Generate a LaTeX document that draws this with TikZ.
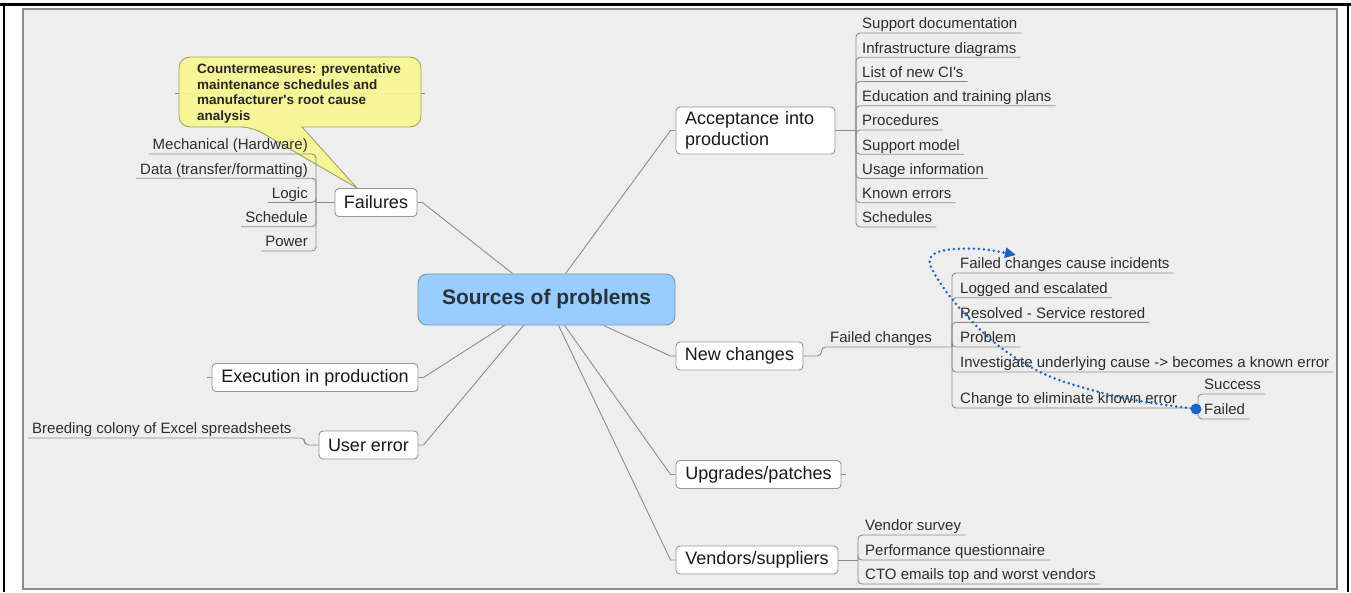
\documentclass[tikz,border=0pt]{standalone}
\usepackage{fontspec}
\setmainfont{Liberation Sans}[Ligatures=TeXOff]
\usetikzlibrary{calc,arrows.meta}
\definecolor{panelfill}{RGB}{238,238,238}
\definecolor{panelline}{RGB}{140,140,140}
\definecolor{linegray}{RGB}{140,140,140}
\definecolor{boxgray}{RGB}{150,150,150}
\definecolor{txtmain}{RGB}{25,25,25}
\definecolor{txtleaf}{RGB}{45,45,45}
\definecolor{centerfill}{RGB}{153,204,255}
\definecolor{centerline}{RGB}{120,150,185}
\definecolor{centertxt}{RGB}{40,50,60}
\definecolor{callfill}{RGB}{247,247,145}
\definecolor{callline}{RGB}{160,160,100}
\definecolor{bluec}{RGB}{25,100,200}
\tikzset{
  conn/.style={draw=linegray, line width=0.9},
  brk/.style={draw=linegray, line width=0.9, rounded corners=4},
  mainbox/.style={draw=boxgray, fill=white, rounded corners=4, line width=0.9,
    font=\fontsize{18}{20.5}\selectfont, text=txtmain, inner xsep=9, inner ysep=3, minimum height=28},
  leaf/.style={font=\fontsize{15}{17}\selectfont, text=txtleaf, inner xsep=4, inner ysep=0.5,
    text height=11, text depth=3.5},
  leafL/.style={leaf, anchor=south west},
  leafR/.style={leaf, anchor=south east},
}
\begin{document}
\begin{tikzpicture}[x=1pt,y=-1pt]
\useasboundingbox (0,0) rectangle (1351,592);
\fill[white] (0,0) rectangle (1351,592);
\draw[draw=panelline, fill=panelfill, line width=1.2] (23,9) rectangle (1337,589);
\draw[black, line width=3] (0,4) -- (1351,4);
\draw[black, line width=2.6] (4,4) -- (4,592);
\draw[black, line width=2.6] (1348,4) -- (1348,592);

% hidden connector behind callout
\draw[conn] (175,93) -- (425,93);
% callout
\filldraw[draw=callline, fill=callfill, line width=0.9, fill opacity=0.92]
  (302,127) [rounded corners=11] -- (421,127) -- (421,57) -- (179,57) -- (179,127) -- (252,127) [sharp corners] -- (357,188) -- cycle;
\node[anchor=north west, inner sep=0, align=left, text=black!85,
  font=\fontsize{13.5}{15.5}\selectfont\bfseries] (cm) at (197,64)
  {Countermeasures: preventative\\maintenance schedules and\\manufacturer's root cause\\analysis};

% central node
\node[draw=centerline, fill=centerfill, rounded corners=9, line width=0.9,
  minimum width=257, minimum height=51, text=centertxt,
  font=\fontsize{21}{24}\selectfont\bfseries] (c) at (546.5,299.5) {Sources of problems};

% main topics
\node[mainbox, minimum width=82] (fl) at (376,202.5) {Failures};
\node[mainbox, minimum width=159, minimum height=47, align=left, text width=141] (acc) at (755.5,130.5) {Acceptance into\\production};
\node[mainbox, minimum width=127] (nc) at (739.5,356) {New changes};
\node[mainbox, minimum width=165] (up) at (758.5,474.5) {Upgrades/patches};
\node[mainbox, minimum width=162] (vs) at (757,560) {Vendors/suppliers};
\node[mainbox, minimum width=206] (ex) at (315,377.5) {Execution in production};
\node[mainbox, minimum width=99] (ue) at (368.5,445) {User error};

% connectors from centre
\draw[conn] (fl.east) -- ++(5,0) -- ($(c.north west)+(95,0)$);
\draw[conn] (acc.west) -- ++(-5,0) -- ($(c.north west)+(148,0)$);
\draw[conn] (nc.west) -- ++(-5,0) -- ($(c.south west)+(186,0)$);
\draw[conn] (up.west) -- ++(-5,0) -- ($(c.south west)+(147,0)$);
\draw[conn] (vs.west) -- ++(-5,0) -- ($(c.south west)+(141,0)$);
\draw[conn] (ex.east) -- ++(5,0) -- ($(c.south west)+(87,0)$);
\draw[conn] (ue.east) -- ++(5,0) -- ($(c.south west)+(106,0)$);
\draw[conn] (up.east) -- ++(5,0);
\draw[conn] (ex.west) -- ++(-5,0);

% Failures children
\coordinate (jF) at (316,202.5);
\node[leafR] (f1) at (312,154) {Mechanical (Hardware)};
\node[leafR] (f2) at (312,178.25) {Data (transfer/formatting)};
\node[leafR] (f3) at (312,202.5) {Logic};
\node[leafR] (f4) at (312,226.75) {Schedule};
\node[leafR] (f5) at (312,251) {Power};
\draw[conn] (fl.west) -- (jF);
\foreach \n in {f1,f2,f3,f4,f5} \draw[brk] (jF) |- (\n.south west);

% Acceptance children
\coordinate (jA) at (856,130.5);
\node[leafL] (a1) at (858,33) {Support documentation};
\node[leafL] (a2) at (858,57.25) {Infrastructure diagrams};
\node[leafL] (a3) at (858,81.5) {List of new CI's};
\node[leafL] (a4) at (858,105.75) {Education and training plans};
\node[leafL] (a5) at (858,130) {Procedures};
\node[leafL] (a6) at (858,154.25) {Support model};
\node[leafL] (a7) at (858,178.5) {Usage information};
\node[leafL] (a8) at (858,202.75) {Known errors};
\node[leafL] (a9) at (858,227) {Schedules};
\draw[conn] (acc.east) -- (jA);
\foreach \n in {a1,a2,a3,a4,a5,a6,a7,a8,a9} \draw[brk] (jA) |- (\n.south east);

% New changes
\coordinate (jNC) at (952,347);
\node[leafL] (fc) at (826,347) {Failed changes};
\draw[brk] (nc.east) -- ++(18,0) |- (jNC);
\node[leafL] (n1) at (956,273) {Failed changes cause incidents};
\node[leafL] (n2) at (956,297.7) {Logged and escalated};
\node[leafL] (n3) at (956,322.3) {Resolved - Service restored};
\node[leafL] (n4) at (956,347) {Problem};
\node[leafL] (n5) at (956,372) {Investigate underlying cause -> becomes a known error};
\node[leafL] (n6) at (956,408) {Change to eliminate known error};
\foreach \n in {n1,n2,n3,n4,n5} \draw[brk] (jNC) |- (\n.south east);
\coordinate (jSF) at (1198,408);
\draw[brk] (jNC) |- (jSF);
\node[leafL] (s1) at (1200,394) {Success};
\node[leafL] (s2) at (1200,419) {Failed};
\draw[brk] (jSF) |- (s1.south east);
\draw[brk] (jSF) |- (s2.south east);

% Vendors children
\coordinate (jV) at (858,560);
\node[leafL] (v1) at (861,535) {Vendor survey};
\node[leafL] (v2) at (861,560) {Performance questionnaire};
\node[leafL] (v3) at (861,584) {CTO emails top and worst vendors};
\draw[conn] (vs.east) -- (jV);
\foreach \n in {v1,v2,v3} \draw[brk] (jV) |- (\n.south east);

% User error child
\node[leafL] (br) at (28,438) {Breeding colony of Excel spreadsheets};
\draw[brk] (ue.west) -- ++(-14,0) |- (br.south west);

% blue dotted relationship
\node[circle, fill=bluec, inner sep=0, minimum size=11] (dot) at (1196,409) {};
\coordinate (tip) at (1016,255);
\draw[bluec, line width=2.8, line cap=round, dash pattern=on 0pt off 5pt,
  -{Triangle[length=11pt,width=10pt]}]
  plot[smooth, tension=0.6] coordinates {(dot.center) (1140,401) (1088,389) (1040,372) (995,343) (956,304) (933,271) (931,257) (946,250) (980,249) (tip)};
\end{tikzpicture}
\end{document}
